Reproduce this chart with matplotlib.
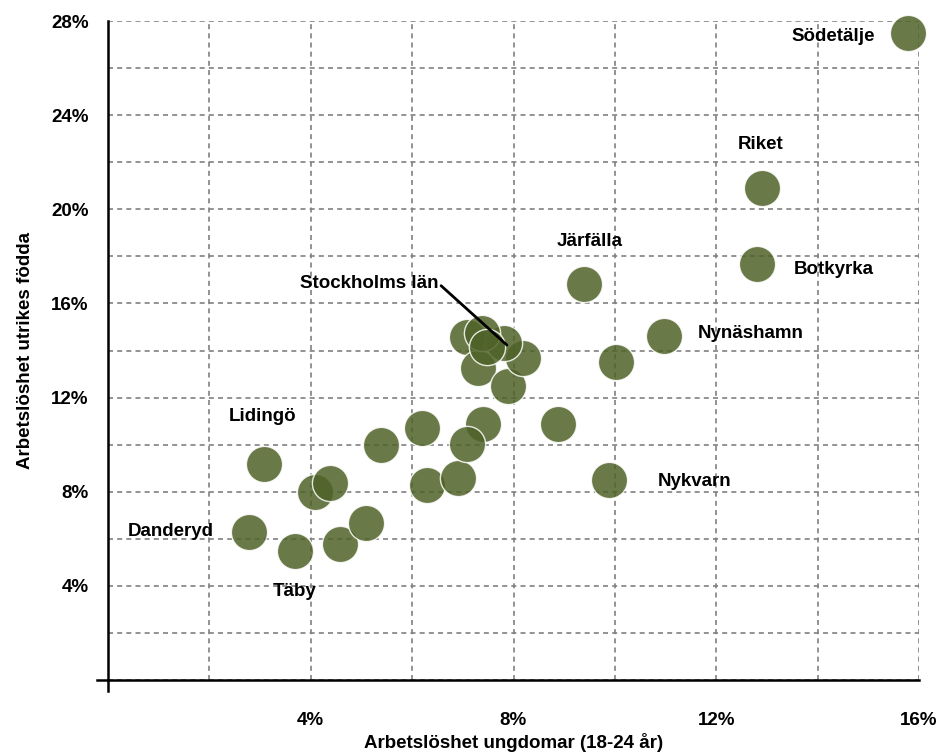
import matplotlib
matplotlib.use("Agg")
import matplotlib.pyplot as plt
import matplotlib.ticker as ticker

plt.rcParams['font.family'] = ['Liberation Sans', 'DejaVu Sans']
plt.rcParams['font.weight'] = 'bold'

# Arbetslöshet ungdomar (x, %) och utrikes födda (y, %)
ungdomar = [2.78, 3.69, 3.08, 4.08, 4.38, 4.58, 5.09, 5.38, 6.19, 6.29,
            6.90, 7.08, 7.40, 7.08, 7.30, 7.89, 8.19, 7.81, 7.38, 7.48,
            8.88, 9.88, 10.02, 10.97, 9.39, 12.80, 12.90, 15.78]
utrikes = [6.29, 5.48, 9.18, 7.99, 8.37, 5.78, 6.67, 9.98, 10.71, 8.28,
           8.58, 14.57, 10.87, 10.03, 13.25, 12.49, 13.68, 14.32, 14.74, 14.15,
           10.87, 8.50, 13.51, 14.61, 16.82, 17.67, 20.90, 27.50]

# namngivna punkter: (namn, x, y) för etikettens mitt
etiketter = [
    ("Södetälje", 14.31, 27.33),
    ("Riket", 12.88, 22.74),
    ("Botkyrka", 14.32, 17.46),
    ("Järfälla", 9.51, 18.65),
    ("Nynäshamn", 12.68, 14.74),
    ("Nykvarn", 11.58, 8.45),
    ("Lidingö", 3.04, 11.21),
    ("Danderyd", 1.24, 6.33),
    ("Täby", 3.69, 3.74),
]
stockholm_text = (5.15, 16.86)
stockholm_punkt = (7.87, 14.23)

fig = plt.figure(figsize=(9.49, 7.55), dpi=100)
ax = fig.add_axes([108/949, 1-680/755, 811/949, 659/755])

ax.scatter(ungdomar, utrikes, s=680, color='#4f6228', alpha=0.85,
           edgecolors='white', linewidths=1.0, zorder=3, clip_on=False)

for namn, x, y in etiketter:
    ax.text(x, y, namn, ha='center', va='center', fontsize=13.5,
            fontweight='bold', color='black', zorder=4)

ax.annotate("Stockholms län", xy=stockholm_punkt, xytext=stockholm_text,
            ha='center', va='center', fontsize=13.5, fontweight='bold',
            arrowprops=dict(arrowstyle='-', color='black', lw=2,
                            shrinkA=0, shrinkB=0,
                            relpos=(1.0, 0.5)),
            zorder=4)

ax.set_xlim(0, 16)
ax.set_ylim(0, 28)
ax.xaxis.set_major_locator(ticker.MultipleLocator(2))
ax.yaxis.set_major_locator(ticker.MultipleLocator(2))

def pct4(v, pos):
    v = int(round(v))
    return f"{v}%" if v % 4 == 0 and v > 0 else ""

ax.xaxis.set_major_formatter(ticker.FuncFormatter(pct4))
ax.yaxis.set_major_formatter(ticker.FuncFormatter(pct4))
ax.tick_params(axis='x', length=0, pad=23, labelsize=13.5)
ax.tick_params(axis='y', length=0, pad=14, labelsize=13.5)

ax.grid(True, color='#808080', linestyle=(0, (3, 2.5)), linewidth=1.2, zorder=0)
ax.set_axisbelow(True)

ax.spines['top'].set_visible(False)
ax.spines['right'].set_visible(False)
ax.spines['left'].set_linewidth(1.8)
ax.spines['bottom'].set_linewidth(1.8)
ax.plot([-0.0136, 0], [0, 0], color='black', lw=1.8, transform=ax.transAxes, clip_on=False)
ax.plot([0, 0], [-0.0167, 0], color='black', lw=1.8, transform=ax.transAxes, clip_on=False)

ax.set_xlabel("Arbetslöshet ungdomar (18-24 år)", fontsize=13.5, fontweight='bold', labelpad=3)
ax.set_ylabel("Arbetslöshet utrikes födda", fontsize=13.5, fontweight='bold', labelpad=12)

fig.savefig("out.png", dpi=100)
